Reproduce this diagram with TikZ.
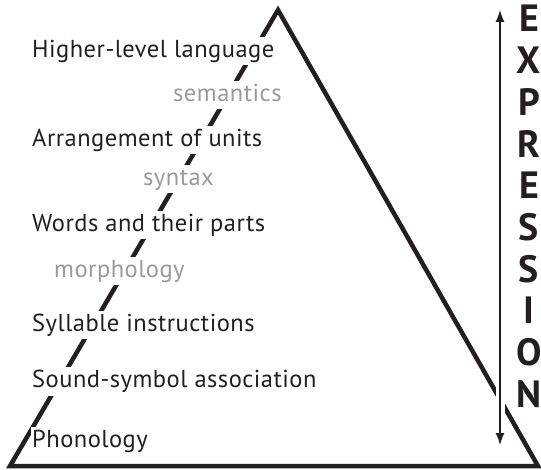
\documentclass[tikz,border=0pt]{standalone}
\usepackage{fontspec}
\setmainfont{PT Sans}
\newfontfamily\lblfont[LetterSpace=2]{PT Sans}
\usetikzlibrary{arrows.meta}
\definecolor{ink}{HTML}{231F20}
\definecolor{soft}{HTML}{9A9A9A}
\begin{document}
\begin{tikzpicture}[x=1pt,y=-1pt,
  lbl/.style={anchor=base west, fill=white, inner xsep=1pt, inner ysep=1.5pt,
    text height=19pt, text depth=6pt, font=\lblfont\fontsize{24.5}{26}\selectfont, text=ink},
  sublbl/.style={lbl, text=soft},
  letter/.style={anchor=base, font=\bfseries\fontsize{38}{40}\selectfont, text=ink, inner sep=0pt},
  edge/.style={line width=4.5pt, draw=ink, line join=miter},
  halo/.style={draw=white, line width=9pt},
  axis/.style={draw=ink, line width=1.3pt, {Latex[length=12pt,width=9pt]}-{Latex[length=12pt,width=9pt]}}]
\useasboundingbox (0,0) rectangle (541,470);
\coordinate (apex) at (278,10);
\coordinate (bl) at (10,466);
\coordinate (br) at (538,466);
\draw[edge] (bl) -- (apex) -- (br) -- cycle;
% labels (white boxes hide the left edge)
\node[lbl] (hl) at (31,58) {Higher-level language};
\node[sublbl] (sem) at (172,102) {semantics};
\node[lbl] (au) at (31,147) {Arrangement of units};
\node[sublbl] (syn) at (142,186) {syntax};
\node[lbl] (wp) at (31,232) {Words and their parts};
\node[sublbl] (mor) at (53,278) {morphology};
\node[lbl] (si) at (31,332) {Syllable instructions};
\node[lbl] (ssa) at (31,388) {Sound-symbol association};
\node[lbl] (ph) at (31,447) {Phonology};
% axis arrow
\coordinate (atop) at (500,10);
\coordinate (abot) at (500,445);
\draw[halo] (atop) -- (abot);
\draw[axis] (abot) -- (atop);
% letters
\foreach \ch [count=\i from 0] in {E,X,P,R,E,S,S,I,O,N}
  \node[letter] (L\i) at (529,{32+41.7*\i}) {\ch};
\end{tikzpicture}
\end{document}
